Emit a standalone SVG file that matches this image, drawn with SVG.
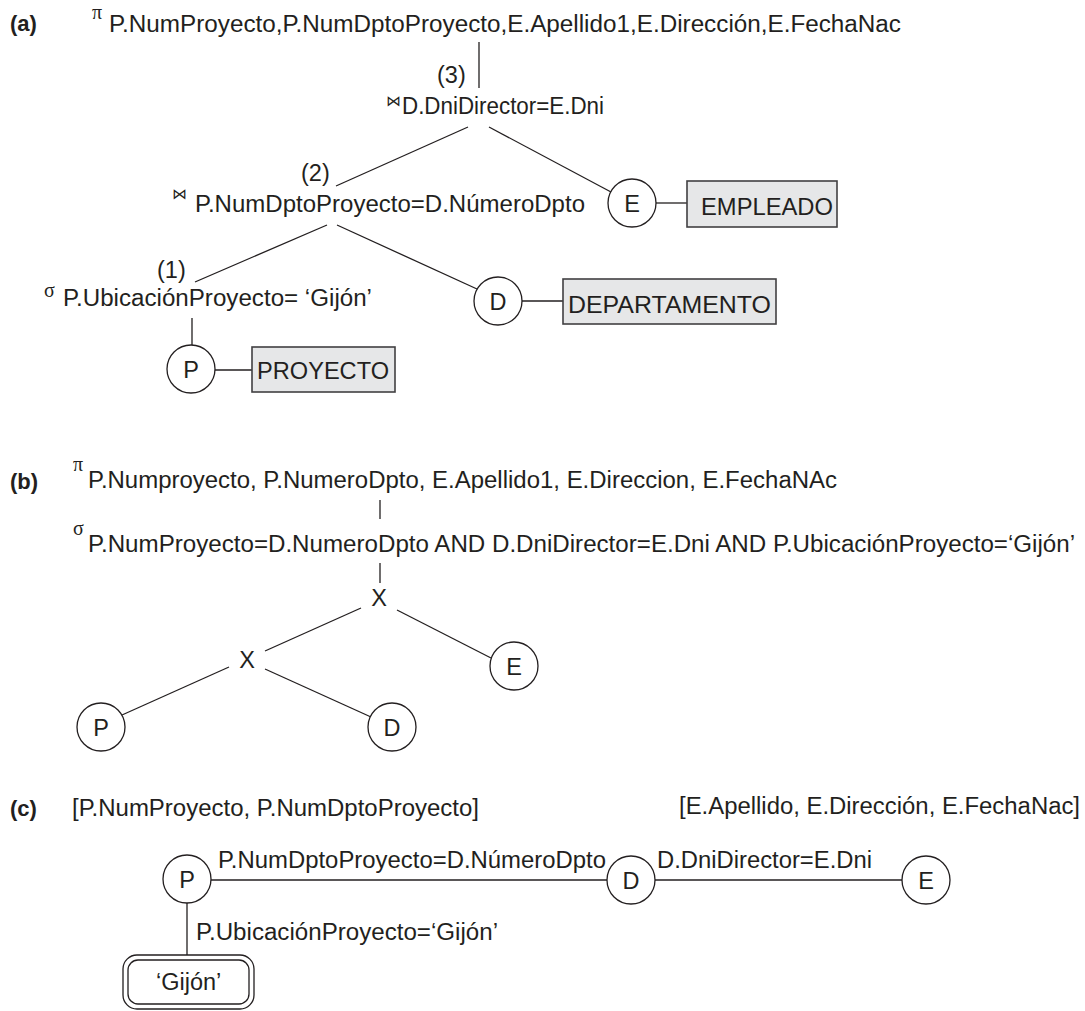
<svg xmlns="http://www.w3.org/2000/svg" width="1085" height="1011" viewBox="0 0 1085 1011">
<style>
.t{font-family:"Liberation Sans",Arial,sans-serif;font-size:23.5px;fill:#231f20}
.lbl{font-family:"Liberation Sans",Arial,sans-serif;font-size:22px;font-weight:bold;fill:#231f20}
.g{font-family:"Liberation Serif","Times New Roman",serif;font-size:20px;fill:#231f20}
.bt{font-family:"DejaVu Sans",sans-serif;font-size:15px;fill:#231f20}
.c{text-anchor:middle}
.ln{stroke:#231f20;stroke-width:1.3;fill:none}
.node{fill:#fff;stroke:#231f20;stroke-width:1.3}
.box{fill:#e6e7e8;stroke:#414042;stroke-width:1.6}
</style>
<rect width="1085" height="1011" fill="#fff"/>
<g id="connectors">
<line class="ln" x1="479" y1="42" x2="479" y2="88"/>
<line class="ln" x1="468" y1="127" x2="336" y2="186"/>
<line class="ln" x1="489" y1="127" x2="611" y2="192"/>
<line class="ln" x1="656" y1="203" x2="687" y2="203"/>
<line class="ln" x1="327" y1="225" x2="195" y2="282"/>
<line class="ln" x1="337" y1="225" x2="477" y2="289"/>
<line class="ln" x1="522" y1="301" x2="563" y2="301"/>
<line class="ln" x1="192" y1="318" x2="192" y2="345"/>
<line class="ln" x1="215" y1="370" x2="252" y2="370"/>
<line class="ln" x1="380" y1="500" x2="380" y2="519"/>
<line class="ln" x1="380" y1="563" x2="380" y2="583"/>
<line class="ln" x1="361" y1="608" x2="265" y2="651"/>
<line class="ln" x1="397" y1="610" x2="491" y2="658"/>
<line class="ln" x1="229" y1="667" x2="122" y2="715"/>
<line class="ln" x1="265" y1="669" x2="371" y2="717"/>
<line class="ln" x1="211" y1="880" x2="607" y2="880"/>
<line class="ln" x1="655" y1="880" x2="902" y2="880"/>
<line class="ln" x1="187" y1="903" x2="187" y2="955"/>
</g>
<g id="labels">
<text class="lbl" x="10" y="31">(a)</text>
<text class="lbl" x="10" y="489">(b)</text>
<text class="lbl" x="10" y="816">(c)</text>
</g>
<g id="a-project">
<text class="g" x="92" y="19">π</text>
<text class="t" x="109" y="32" textLength="792" lengthAdjust="spacingAndGlyphs">P.NumProyecto,P.NumDptoProyecto,E.Apellido1,E.Dirección,E.FechaNac</text>
</g>
<g id="a-join3">
<text class="t" x="437" y="83">(3)</text>
<text class="bt" x="386" y="106">⋈</text>
<text class="t" x="402" y="114" textLength="202" lengthAdjust="spacingAndGlyphs">D.DniDirector=E.Dni</text>
</g>
<g id="a-join2">
<text class="t" x="301" y="181">(2)</text>
<text class="bt" x="172" y="199">⋈</text>
<text class="t" x="195" y="212" textLength="390" lengthAdjust="spacingAndGlyphs">P.NumDptoProyecto=D.NúmeroDpto</text>
</g>
<g id="a-select1">
<text class="t" x="157" y="278">(1)</text>
<text class="g" x="44" y="297">σ</text>
<text class="t" x="63" y="306" textLength="309" lengthAdjust="spacingAndGlyphs">P.UbicaciónProyecto= ‘Gijón’</text>
</g>
<g id="a-E">
<circle class="node" cx="632" cy="203" r="24"/>
<text class="t c" x="632" y="211.5">E</text>
</g>
<g id="a-EMPLEADO">
<rect class="box" x="687" y="181" width="150" height="46"/>
<text class="t" x="701" y="215" textLength="132" lengthAdjust="spacingAndGlyphs">EMPLEADO</text>
</g>
<g id="a-D">
<circle class="node" cx="498" cy="301" r="24"/>
<text class="t c" x="498" y="309.5">D</text>
</g>
<g id="a-DEPARTAMENTO">
<rect class="box" x="563" y="279" width="213" height="45"/>
<text class="t" x="568" y="313" textLength="203" lengthAdjust="spacingAndGlyphs">DEPARTAMENTO</text>
</g>
<g id="a-P">
<circle class="node" cx="191" cy="369" r="24"/>
<text class="t c" x="191" y="377.5">P</text>
</g>
<g id="a-PROYECTO">
<rect class="box" x="252" y="347" width="143" height="45"/>
<text class="t" x="257" y="379" textLength="132" lengthAdjust="spacingAndGlyphs">PROYECTO</text>
</g>
<g id="b-project">
<text class="g" x="73" y="471">π</text>
<text class="t" x="88" y="488" textLength="749" lengthAdjust="spacingAndGlyphs">P.Numproyecto, P.NumeroDpto, E.Apellido1, E.Direccion, E.FechaNAc</text>
</g>
<g id="b-select">
<text class="g" x="73" y="535">σ</text>
<text class="t" x="88" y="552" textLength="987" lengthAdjust="spacingAndGlyphs">P.NumProyecto=D.NumeroDpto AND D.DniDirector=E.Dni AND P.UbicaciónProyecto=‘Gijón’</text>
</g>
<g id="b-X1"><text class="t c" x="379" y="606">X</text></g>
<g id="b-X2"><text class="t c" x="247" y="668">X</text></g>
<g id="b-E">
<circle class="node" cx="514" cy="666" r="24"/>
<text class="t c" x="514" y="674.5">E</text>
</g>
<g id="b-P">
<circle class="node" cx="101" cy="727" r="24"/>
<text class="t c" x="101" y="735.5">P</text>
</g>
<g id="b-D">
<circle class="node" cx="392" cy="727" r="24"/>
<text class="t c" x="392" y="735.5">D</text>
</g>
<g id="c-attrs">
<text class="t" x="72" y="816" textLength="407" lengthAdjust="spacingAndGlyphs">[P.NumProyecto, P.NumDptoProyecto]</text>
<text class="t" x="679" y="814" textLength="401" lengthAdjust="spacingAndGlyphs">[E.Apellido, E.Dirección, E.FechaNac]</text>
</g>
<g id="c-edges">
<text class="t" x="218" y="868" textLength="388" lengthAdjust="spacingAndGlyphs">P.NumDptoProyecto=D.NúmeroDpto</text>
<text class="t" x="657" y="868" textLength="215" lengthAdjust="spacingAndGlyphs">D.DniDirector=E.Dni</text>
<text class="t" x="196" y="940" textLength="302" lengthAdjust="spacingAndGlyphs">P.UbicaciónProyecto=‘Gijón’</text>
</g>
<g id="c-P">
<circle class="node" cx="187" cy="879" r="24"/>
<text class="t c" x="187" y="887.5">P</text>
</g>
<g id="c-D">
<circle class="node" cx="631" cy="880" r="24"/>
<text class="t c" x="631" y="888.5">D</text>
</g>
<g id="c-E">
<circle class="node" cx="926" cy="880" r="24"/>
<text class="t c" x="926" y="888.5">E</text>
</g>
<g id="c-Gijon">
<rect class="ln" x="123" y="955" width="131" height="54" rx="14"/>
<rect class="ln" x="128" y="960" width="121" height="44" rx="10"/>
<text class="t" x="156" y="990">‘Gijón’</text>
</g>
</svg>
